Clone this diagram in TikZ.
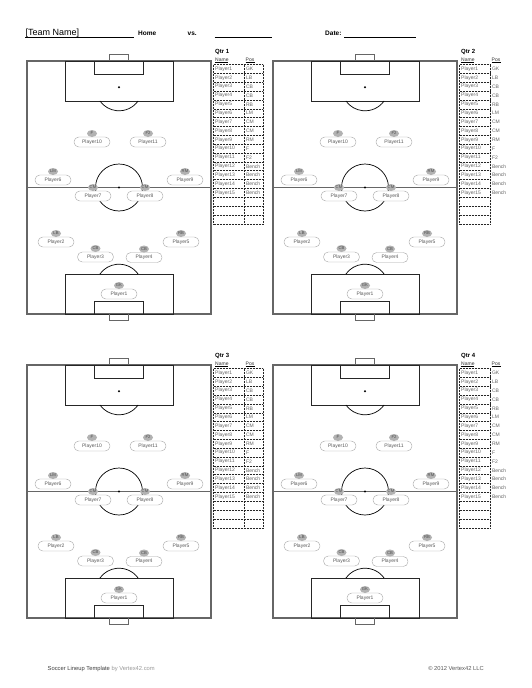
\documentclass[tikz,border=0pt]{standalone}
\usepackage{fontspec}
\setmainfont{Liberation Sans}
\usetikzlibrary{shapes.geometric}
\begin{document}
\begin{tikzpicture}[x=1pt,y=-1pt,
  outerline/.style={draw=black!60, line width=1.1pt},
  innerline/.style={draw=black!85, line width=0.85pt},
  goalline/.style={draw=black!60, line width=0.9pt},
  circline/.style={draw=black, line width=0.7pt},
  pcap/.style={draw=black!35, fill=white, rounded corners=4.8pt, minimum width=36pt, minimum height=10pt, inner sep=0pt, font=\fontsize{5}{6}\selectfont, text=black!65},
  pbadge/.style={ellipse, fill=black!30, minimum width=10pt, minimum height=7pt, inner sep=0.3pt, font=\fontsize{4.2}{4.5}\selectfont, text=black!70},
  tcell/.style={anchor=west, inner sep=0pt, font=\fontsize{5}{6}\selectfont, text=black!60},
  thdr/.style={anchor=base west, inner sep=0pt, font=\fontsize{5}{6}\selectfont, text=black!80},
  dotline/.style={draw=black!85, line width=0.45pt, dash pattern=on 0.6pt off 0.9pt},
  ttl/.style={anchor=base west, inner sep=0pt, font=\fontsize{6.5}{7}\selectfont\bfseries},
  ftxt/.style={inner sep=0pt, font=\fontsize{5.8}{7}\selectfont}
]
\useasboundingbox (0,0) rectangle (531,688);
\fill[white] (0,0) rectangle (531,688);

% header
\node[anchor=base west, inner sep=0pt, font=\fontsize{9}{10}\selectfont] (team) at (25.4,35.6) {[Team Name]};
\draw[line width=0.6pt] (25.4,37.6) -- (134,37.6);
\node[ttl] (home) at (138,35.5) {Home};
\node[ttl] (vs) at (187.5,35.5) {vs.};
\draw[line width=0.6pt] (214.6,37.4) -- (272,37.4);
\node[ttl] (date) at (325,35.5) {Date:};
\draw[line width=0.6pt] (344,37.4) -- (416,37.4);

\foreach \q/\dx/\dy/\tr in {1/0/0/263, 2/246/0/244.3, 3/0/304/263, 4/246/304/244.3}{
\begin{scope}[shift={(\dx,\dy)}]
  % pitch
  \draw[outerline] (27,61) rectangle (211,314);
  \draw[outerline] (27,187.5) -- (211,187.5);
  \draw[innerline] (65.7,61) rectangle (173,101);
  \draw[innerline] (94.7,61) rectangle (143.3,74);
  \draw[goalline] (109,61) -- (109,54.3) -- (128.3,54.3) -- (128.3,61);
  \draw[innerline] (65.7,274) rectangle (173,314);
  \draw[innerline] (94.7,301) rectangle (143.3,314);
  \draw[goalline] (109,314) -- (109,320.5) -- (128.3,320.5) -- (128.3,314);
  \draw[circline] (119,187.5) circle[radius=23.5];
  \fill (119,187.5) circle[radius=1.1];
  \fill (119,87.3) circle[radius=1.1];
  \fill (119,287.7) circle[radius=1.1];
  \draw[circline] (138.09,101) arc[start angle=35.66, end angle=144.34, radius=23.5];
  \draw[circline] (138.09,274) arc[start angle=-35.66, end angle=-144.34, radius=23.5];
  % players
  \foreach \n/\px/\py/\ps in {1/0/106.5/GK, 2/-63/54.5/LB, 3/-23.5/69.5/CB, 4/25/70/CB, 5/62/54.5/RB, 6/-66/-7.5/LM, 7/-26/8.5/CM, 8/26/8.5/CM, 9/66/-7.5/RM, 10/-27/-45.5/F, 11/29/-45.5/F2}{
    \node[pcap] (p\q-\n) at ({119+\px},{187.5+\py}) {Player\n};
    \node[pbadge] (b\q-\n) at ({119+\px},{179+\py}) {\ps};
  }
  % table
  \node[ttl, font=\fontsize{6}{7}\selectfont\bfseries] (qt\q) at (215,53) {Qtr \q};
  \node[thdr] (hn\q) at (215,61) {Name};
  \node[thdr] (hp\q) at (245.5,61) {Pos};
  \draw[line width=0.5pt] (215,62.6) -- (228,62.6);
  \draw[line width=0.5pt] (245.5,62.6) -- (254.5,62.6);
  \foreach \k in {0,...,18}{
    \draw[dotline] (213.5,{64.5+\k*8.85}) -- (\tr,{64.5+\k*8.85});
  }
  \draw[dotline] (213.5,64.5) -- (213.5,223.8);
  \draw[dotline] (244.3,64.5) -- (244.3,223.8);
  \draw[dotline] (\tr,64.5) -- (\tr,223.8);
  \foreach \r/\ps in {1/GK,2/LB,3/CB,4/CB,5/RB,6/LM,7/CM,8/CM,9/RM,10/F,11/F2,12/Bench,13/Bench,14/Bench,15/Bench}{
    \node[tcell] (n\q-\r) at (215,{64.5+(\r-0.5)*8.85}) {Player\r};
    \node[tcell] (s\q-\r) at (245.8,{64.5+(\r-0.5)*8.85}) {\ps};
  }
\end{scope}
}

% footer
\node[ftxt, anchor=base west] (ft1) at (47.5,670.5) {\textcolor{black!75}{Soccer Lineup Template} \textcolor{black!40}{by Vertex42.com}};
\node[ftxt, anchor=base east, text=black!65] (ft2) at (484,670.5) {© 2012 Vertex42 LLC};
\end{tikzpicture}
\end{document}
